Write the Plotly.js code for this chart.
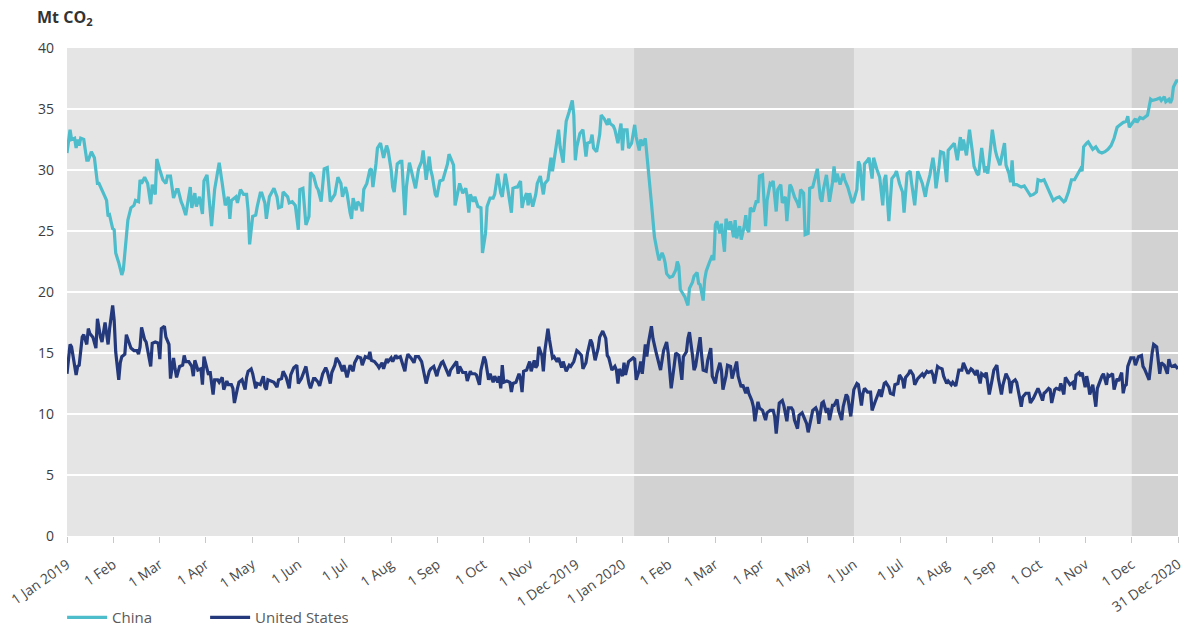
<!DOCTYPE html>
<html>
<head>
<meta charset="utf-8">
<script src="https://cdn.plot.ly/plotly-3.0.1.min.js"></script>
<style>
html,body{margin:0;padding:0;background:#fff;}
#chart{width:1189px;height:629px;}
</style>
</head>
<body>
<div id="chart"></div>
<script>
// x = position in days from 1 Jan 2019 on the chart's evenly spaced monthly axis (0..730)
const tickLabels = ["1 Jan 2019","1 Feb","1 Mar","1 Apr","1 May","1 Jun","1 Jul","1 Aug","1 Sep","1 Oct","1 Nov","1 Dec 2019","1 Jan 2020","1 Feb","1 Mar","1 Apr","1 May","1 Jun","1 Jul","1 Aug","1 Sep","1 Oct","1 Nov","1 Dec","31 Dec 2020"];
const seriesNames = ["China","United States"];

const chinaPoints = [[0,31.4],[2,33.3],[3,32.5],[5,32.6],[6,31.8],[7,32.5],[8,32.0],[9,32.6],[11,32.5],[13,30.8],[14,30.8],[16,31.5],[18,31.0],[20,28.9],[21,28.9],[23,28.4],[25,27.8],[26,27.5],[27,26.2],[28,26.3],[30,25.2],[31,25.1],[32,23.2],[34,22.4],[36,21.4],[37,21.8],[38,23.2],[40,25.9],[42,26.9],[44,27.1],[45,27.5],[47,27.4],[48,29.2],[49,28.9],[51,29.4],[53,28.9],[55,27.2],[56,28.8],[58,28.0],[59,30.9],[61,30.0],[63,29.2],[65,28.9],[66,29.5],[68,29.5],[70,27.7],[72,28.4],[73,28.4],[75,27.4],[76,27.1],[78,26.3],[79,27.0],[81,28.6],[82,26.9],[84,28.1],[85,27.0],[87,27.8],[89,26.4],[90,29.1],[92,29.6],[93,28.4],[95,25.4],[97,28.4],[100,30.6],[102,28.9],[104,27.1],[106,27.8],[107,26.0],[108,27.5],[111,27.8],[112,27.3],[114,28.4],[116,28.0],[118,28.0],[119,26.7],[120,23.9],[122,26.2],[124,26.3],[125,27.0],[127,28.1],[128,28.1],[130,27.3],[131,26.0],[133,27.8],[136,28.5],[138,27.8],[139,26.9],[141,27.0],[142,28.2],[145,27.8],[146,27.3],[148,27.4],[150,27.1],[152,25.1],[153,28.4],[155,28.5],[157,25.5],[159,26.2],[160,29.8],[162,29.5],[164,28.6],[165,28.4],[167,27.4],[169,30.1],[171,30.2],[173,27.4],[176,28.0],[178,29.4],[180,28.9],[181,27.8],[183,28.6],[184,28.1],[186,26.5],[187,26.0],[188,27.7],[190,26.7],[191,27.4],[193,27.1],[194,26.6],[195,28.4],[197,28.9],[199,30.0],[200,30.1],[201,28.6],[203,30.5],[204,31.8],[206,32.2],[208,31.0],[210,32.0],[211,31.6],[213,30.0],[214,28.6],[215,28.2],[217,30.5],[219,30.7],[220,30.7],[222,26.3],[223,28.6],[225,30.6],[227,29.5],[228,29.2],[229,28.5],[231,30.1],[233,30.7],[234,31.6],[236,29.2],[238,31.1],[239,30.0],[240,29.5],[242,28.0],[243,27.8],[245,29.1],[247,29.2],[249,30.1],[250,30.5],[251,31.3],[253,30.6],[254,30.4],[255,27.1],[257,28.5],[258,28.9],[260,28.1],[262,28.5],[263,27.8],[264,26.5],[265,28.0],[267,27.4],[268,27.8],[270,27.0],[272,26.9],[273,23.2],[275,24.8],[276,27.0],[278,27.7],[280,27.7],[281,28.0],[283,29.7],[285,28.1],[286,27.8],[288,29.7],[289,29.0],[292,26.5],[293,28.5],[295,28.6],[296,28.6],[298,29.1],[299,26.9],[300,27.5],[302,28.1],[303,27.1],[304,28.1],[306,27.0],[308,28.0],[309,28.9],[311,29.5],[313,28.0],[314,28.9],[316,29.2],[318,31.0],[319,29.9],[321,31.8],[323,33.3],[324,31.9],[326,30.6],[327,32.5],[328,34.0],[330,34.8],[332,35.7],[333,34.5],[334,30.8],[335,31.9],[337,33.0],[339,33.3],[341,31.1],[342,32.2],[344,32.3],[345,32.9],[346,31.8],[348,31.5],[350,32.9],[351,34.5],[353,34.2],[355,33.7],[356,34.2],[357,33.8],[359,33.6],[360,33.3],[362,32.2],[363,33.1],[364,33.8],[365,31.6],[366,33.3],[368,33.3],[369,31.8],[371,32.2],[372,32.9],[373,33.7],[374,32.7],[376,31.6],[377,32.5],[378,32.0],[380,32.6],[381,31.1],[383,28.1],[384,27.3],[385,25.9],[386,24.5],[388,23.2],[389,22.6],[391,23.2],[392,22.9],[393,22.4],[394,21.5],[396,21.2],[398,21.3],[400,21.8],[401,22.5],[402,22.1],[403,20.2],[404,20.0],[405,19.8],[406,19.6],[408,18.9],[409,20.3],[411,20.8],[412,21.3],[414,21.6],[415,20.7],[416,20.6],[418,19.3],[419,21.0],[420,21.7],[422,22.4],[424,23.0],[425,22.6],[426,25.5],[427,25.8],[429,24.8],[430,25.6],[432,23.3],[433,26.0],[435,25.1],[436,25.8],[438,24.5],[439,25.9],[440,24.4],[442,25.4],[443,24.3],[445,25.4],[446,26.3],[447,25.1],[448,24.9],[449,26.9],[451,26.6],[453,27.5],[454,27.3],[455,29.5],[457,29.6],[459,25.4],[460,27.5],[462,28.9],[463,28.8],[464,29.1],[465,27.8],[466,26.6],[467,28.4],[469,28.8],[470,27.3],[472,27.8],[473,25.8],[475,28.8],[476,28.6],[478,27.8],[480,27.3],[481,26.9],[482,28.4],[484,28.1],[485,24.7],[487,24.8],[488,28.5],[490,28.6],[492,29.6],[493,30.1],[495,27.7],[496,27.4],[497,28.4],[499,29.6],[501,27.4],[503,29.0],[504,30.3],[505,29.0],[506,29.7],[508,28.8],[510,29.7],[511,29.2],[513,28.6],[515,27.8],[516,27.3],[517,27.5],[519,28.4],[520,30.7],[521,30.4],[523,27.5],[524,30.5],[526,30.8],[527,31.0],[529,29.3],[530,31.0],[532,30.1],[533,29.8],[534,29.4],[536,27.1],[537,29.2],[538,29.6],[540,25.8],[542,29.3],[544,29.6],[545,29.9],[547,28.9],[549,28.2],[550,26.5],[552,29.7],[554,29.9],[555,28.9],[557,27.1],[559,29.9],[561,29.2],[562,28.9],[564,27.8],[565,28.6],[567,29.6],[569,31.0],[570,30.1],[571,28.5],[573,30.3],[574,31.5],[576,31.4],[578,29.0],[579,31.6],[581,31.9],[583,32.2],[585,30.8],[587,32.7],[588,31.6],[589,32.5],[591,31.2],[592,32.3],[593,33.3],[595,31.4],[596,30.3],[598,29.7],[599,29.6],[601,31.8],[603,29.8],[604,30.3],[605,29.7],[606,30.8],[608,33.3],[610,31.6],[611,31.1],[613,30.4],[614,31.1],[616,32.2],[617,30.4],[619,29.7],[620,29.0],[621,30.8],[622,28.8],[624,28.8],[627,28.6],[629,28.7],[631,28.3],[633,27.9],[635,28.0],[637,28.2],[638,29.2],[640,29.1],[642,29.2],[644,28.6],[646,28.1],[648,27.5],[650,27.7],[652,27.8],[655,27.4],[656,27.5],[658,28.2],[660,29.2],[662,29.2],[664,29.7],[666,30.1],[667,29.9],[668,31.9],[670,32.2],[671,32.3],[673,31.9],[674,31.7],[676,31.9],[678,31.5],[680,31.4],[682,31.5],[684,31.7],[686,32.0],[688,32.6],[690,33.5],[692,33.7],[694,33.9],[696,34.0],[697,34.4],[698,33.5],[700,33.9],[702,34.2],[703,33.9],[705,34.3],[707,34.2],[708,34.3],[710,34.5],[712,35.8],[713,35.7],[716,35.8],[718,35.9],[719,35.7],[721,36.0],[722,35.6],[724,35.8],[725,35.5],[726,35.8],[727,36.8],[729,37.3],[730,37.3]];

const usPoints = [[0,13.3],[2,15.7],[3,15.5],[4,14.8],[6,13.2],[7,13.9],[8,14.0],[10,16.3],[11,16.5],[13,15.7],[14,17.0],[15,16.6],[17,16.3],[19,15.4],[20,17.8],[22,16.3],[23,15.9],[25,17.5],[26,16.3],[27,15.7],[28,17.0],[30,18.9],[31,17.7],[32,15.1],[34,12.8],[35,14.2],[36,14.7],[38,14.9],[39,16.5],[41,15.7],[42,15.4],[44,15.2],[46,15.2],[47,14.9],[48,15.5],[49,17.1],[51,16.1],[52,15.9],[53,15.1],[55,13.9],[56,15.8],[58,15.9],[60,15.8],[61,14.5],[62,17.0],[64,17.2],[65,16.3],[67,15.7],[68,12.9],[70,14.6],[71,13.7],[72,13.0],[74,13.9],[76,14.0],[77,14.8],[78,14.3],[80,14.3],[82,13.9],[83,13.1],[84,14.4],[86,13.6],[88,13.7],[89,12.4],[90,14.7],[92,13.7],[93,13.2],[94,13.5],[96,11.6],[97,12.8],[99,12.8],[100,12.6],[102,13.0],[103,12.0],[105,12.7],[106,12.4],[108,12.4],[109,12.1],[110,10.9],[112,12.1],[113,12.6],[115,12.8],[117,12.0],[118,13.0],[119,13.5],[121,13.7],[122,13.3],[124,12.1],[125,12.5],[127,12.4],[129,13.1],[130,12.2],[131,12.0],[132,12.8],[134,12.7],[136,12.6],[138,12.2],[139,12.8],[141,12.9],[142,13.5],[144,13.0],[146,12.1],[147,13.2],[149,13.8],[151,14.0],[152,12.5],[154,12.9],[155,13.2],[157,13.9],[159,12.5],[160,12.1],[162,12.9],[163,12.9],[165,12.6],[166,12.3],[168,13.3],[170,13.8],[171,13.5],[173,12.5],[174,13.4],[176,14.0],[177,14.6],[179,14.2],[181,13.5],[182,14.0],[184,13.0],[186,14.0],[188,13.5],[189,14.2],[191,14.7],[193,14.6],[194,14.0],[196,14.7],[198,14.6],[199,15.1],[200,14.4],[202,14.3],[204,14.0],[205,13.8],[207,14.2],[208,13.7],[210,14.5],[211,14.3],[213,14.6],[214,14.3],[216,14.8],[217,14.6],[219,14.7],[220,14.3],[222,13.5],[223,14.4],[224,14.9],[226,14.6],[228,14.2],[229,14.7],[231,14.7],[233,14.3],[234,13.6],[236,12.5],[238,13.5],[239,13.7],[241,13.9],[243,13.1],[244,13.6],[246,14.2],[247,14.3],[249,13.7],[251,13.1],[252,13.6],[254,14.0],[256,14.3],[257,13.3],[258,13.9],[260,13.4],[262,13.4],[263,12.7],[265,13.5],[266,13.3],[268,13.3],[269,13.2],[271,12.4],[272,13.6],[274,14.7],[275,14.4],[277,12.8],[278,13.3],[280,12.6],[281,13.1],[283,12.6],[284,13.1],[285,12.1],[286,14.0],[287,12.6],[289,12.7],[291,12.6],[292,11.8],[293,12.5],[295,12.6],[297,13.3],[298,12.9],[299,11.8],[300,13.5],[302,13.6],[304,14.3],[305,13.5],[307,14.4],[308,13.8],[309,14.0],[310,15.5],[312,14.8],[313,13.5],[314,15.2],[316,17.0],[317,16.1],[319,14.6],[320,14.7],[322,14.3],[323,14.6],[325,13.8],[326,14.3],[328,13.5],[330,14.0],[331,13.9],[333,14.3],[335,15.2],[336,15.1],[338,14.8],[339,13.7],[341,14.2],[342,15.0],[344,16.1],[345,15.8],[347,14.4],[349,15.4],[350,16.3],[352,16.8],[354,16.2],[355,14.8],[356,14.6],[358,13.6],[360,13.9],[361,13.6],[362,12.5],[363,13.7],[365,13.1],[366,14.2],[367,13.2],[369,14.3],[370,14.4],[372,14.6],[373,14.5],[374,12.8],[376,13.6],[377,14.3],[378,13.3],[380,15.7],[381,14.7],[382,15.8],[384,17.2],[385,16.2],[387,15.1],[389,14.0],[390,13.6],[392,15.2],[394,15.9],[395,15.0],[397,12.1],[399,14.0],[400,15.0],[402,14.8],[404,12.8],[405,14.7],[407,15.1],[408,16.2],[409,16.7],[411,14.8],[412,13.6],[413,13.9],[415,15.8],[416,16.3],[417,14.8],[418,13.6],[420,13.5],[421,14.4],[423,15.4],[424,13.1],[426,12.5],[427,13.3],[429,14.2],[430,13.6],[431,12.0],[433,13.1],[434,14.0],[436,13.9],[437,12.9],[438,13.3],[440,14.3],[441,13.1],[443,12.2],[444,12.4],[446,11.7],[447,12.2],[448,11.7],[450,11.1],[451,10.6],[452,9.4],[453,10.3],[454,11.0],[455,10.5],[457,10.3],[459,9.5],[460,10.1],[462,10.3],[464,10.3],[465,9.8],[466,8.4],[468,10.9],[470,11.1],[471,10.7],[473,9.4],[474,10.5],[476,10.5],[477,10.3],[478,9.5],[480,8.8],[481,9.9],[483,10.1],[484,9.8],[486,9.2],[487,8.5],[489,9.9],[490,10.3],[492,10.5],[493,10.2],[494,9.2],[496,10.9],[497,11.0],[499,10.1],[500,10.5],[501,9.5],[503,10.7],[504,10.7],[506,11.2],[507,10.3],[509,9.5],[510,10.6],[512,11.6],[513,11.4],[515,9.8],[516,11.0],[517,12.0],[519,12.5],[520,12.4],[522,10.7],[523,11.7],[524,12.1],[526,11.8],[528,11.8],[529,10.3],[531,11.0],[532,11.4],[534,12.0],[535,11.4],[537,12.5],[538,12.6],[540,12.2],[541,11.7],[543,11.6],[544,12.4],[546,12.5],[547,13.2],[549,12.8],[550,12.1],[551,13.0],[553,13.3],[554,13.6],[556,13.2],[557,12.4],[559,12.9],[561,13.2],[562,13.3],[563,13.1],[565,13.5],[566,13.4],[568,13.5],[569,13.2],[570,12.5],[572,13.9],[573,13.8],[575,13.7],[576,13.1],[578,12.5],[579,12.7],[581,12.4],[582,12.6],[584,12.3],[585,12.9],[586,13.6],[588,13.6],[589,14.2],[591,13.6],[592,13.3],[594,13.7],[595,13.6],[597,13.2],[598,13.6],[600,12.5],[601,13.3],[603,13.1],[604,13.4],[605,12.5],[606,11.6],[608,12.9],[609,13.6],[611,14.0],[612,12.9],[614,11.6],[615,12.4],[617,13.3],[619,12.8],[620,11.7],[621,12.6],[623,12.8],[624,12.6],[626,11.3],[627,10.6],[628,11.4],[630,11.7],[632,11.7],[633,10.9],[635,11.3],[636,11.6],[638,12.1],[639,11.8],[641,11.1],[642,11.7],[643,11.8],[645,12.1],[646,12.0],[647,10.9],[649,12.0],[650,12.1],[652,12.0],[653,12.5],[655,11.6],[656,13.0],[658,12.6],[659,12.4],[661,12.6],[662,12.0],[663,13.2],[665,13.4],[666,13.1],[667,13.4],[669,12.2],[670,13.1],[671,12.5],[672,11.6],[674,12.4],[675,11.6],[676,10.6],[677,12.1],[678,12.5],[680,13.1],[681,13.3],[683,12.4],[684,13.2],[685,13.1],[687,13.3],[688,12.0],[690,12.9],[691,12.7],[693,13.4],[694,11.7],[695,12.3],[696,12.4],[697,13.9],[699,14.6],[701,14.6],[702,14.0],[704,14.7],[706,14.8],[707,13.9],[708,13.7],[710,13.1],[711,12.8],[713,15.0],[714,15.7],[716,15.5],[717,14.4],[718,13.3],[719,14.2],[721,14.0],[723,13.3],[724,14.5],[725,14.0],[726,13.9],[728,14.0],[730,13.7]];

// shaded periods (same x units)
const shadeStart = [372.6, 699.6];
const shadeEnd   = [517.1, 730];

const xMax = 730;
const tickVals = tickLabels.map((_, i) => i * xMax / (tickLabels.length - 1));

const traces = [
  {x: chinaPoints.map(p => p[0]), y: chinaPoints.map(p => p[1]), name: seriesNames[0],
   type: 'scatter', mode: 'lines', line: {color: '#4dbccb', width: 3.2, shape: 'linear'}},
  {x: usPoints.map(p => p[0]), y: usPoints.map(p => p[1]), name: seriesNames[1],
   type: 'scatter', mode: 'lines', line: {color: '#24397b', width: 3.2, shape: 'linear'}}
];

const shapes = shadeStart.map((s, i) => ({
  type: 'rect', xref: 'x', yref: 'paper', x0: s, x1: shadeEnd[i], y0: 0, y1: 1,
  fillcolor: '#d2d2d2', line: {width: 0}, layer: 'below'
}));

const layout = {
  width: 1189, height: 629,
  margin: {l: 67, r: 11, t: 48, b: 93},
  paper_bgcolor: '#ffffff',
  plot_bgcolor: '#e5e5e5',
  font: {family: 'Open Sans, Noto Sans, sans-serif', color: '#3c3c3c'},
  showlegend: true,
  legend: {orientation: 'h', x: -0.0044, xanchor: 'left', yref: 'container', y: 0.018, yanchor: 'middle',
           font: {size: 15, color: '#5a5a5a'}, itemwidth: 40, entrywidth: 88, entrywidthmode: 'pixels',
           bgcolor: 'rgba(0,0,0,0)'},
  xaxis: {range: [0, xMax], tickmode: 'array', tickvals: tickVals, ticktext: tickLabels,
          tickangle: -35, tickfont: {size: 14, color: '#4a4a4a'}, ticklabelstandoff: 8,
          ticks: 'outside', ticklen: 6, tickcolor: '#c8c8c8', tickwidth: 1,
          showgrid: false, zeroline: false, showline: false, fixedrange: true},
  yaxis: {range: [0, 40], dtick: 5, tick0: 0, tickfont: {size: 14, color: '#3c3c3c'},
          gridcolor: '#ffffff', gridwidth: 1.5, zeroline: false, showline: false,
          ticks: '', ticklabelstandoff: 12, fixedrange: true},
  shapes: shapes,
  annotations: [{text: '<b>Mt CO<sub>2</sub></b>', xref: 'paper', yref: 'paper',
                 x: -0.029, y: 1.062, xanchor: 'left', yanchor: 'middle', showarrow: false,
                 font: {size: 16, color: '#333333'}}]
};

Plotly.newPlot('chart', traces, layout, {displayModeBar: false, staticPlot: true});
</script>
</body>
</html>
